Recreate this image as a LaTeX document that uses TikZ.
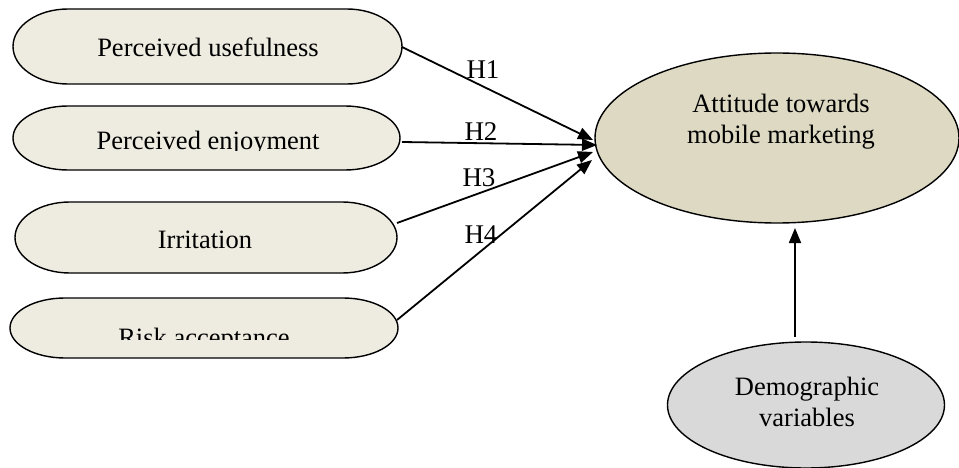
\documentclass[tikz,border=0pt]{standalone}
\usepackage{fontspec}
\setmainfont{Liberation Serif}
\usetikzlibrary{shapes.geometric,arrows.meta}
\definecolor{boxfill}{HTML}{EEECE1}
\definecolor{attfill}{HTML}{DDD9C3}
\definecolor{demfill}{HTML}{D9D9D9}
\newcommand\drawterm[4]{%
  \draw[termline] ({#1+55},#2) -- ({#3-55},#2)
    arc[start angle=-90,end angle=90,x radius=55,y radius={(#4-#2)/2}]
    -- ({#1+55},#4)
    arc[start angle=90,end angle=270,x radius=55,y radius={(#4-#2)/2}] -- cycle;}
\begin{document}
\begin{tikzpicture}[x=1pt,y=1pt,yscale=-1,
  txt/.style={font=\fontsize{26.5}{31}\selectfont, inner sep=0pt},
  termline/.style={draw=black, line width=1.4pt, fill=boxfill},
  conn/.style={line width=1.8pt, -{Triangle[length=15pt,width=12pt]}},
  hlab/.style={font=\fontsize{27}{30}\selectfont, inner sep=0pt}]
\useasboundingbox (0,0) rectangle (959,468);
\fill[white] (0,0) rectangle (959,468);

% left boxes
\drawterm{13}{9}{402}{84}
\drawterm{13}{106}{400}{170}
\drawterm{15}{202}{397}{273}
\drawterm{10}{298}{398}{358}

\node[txt, anchor=base] (pu) at (208,57) {Perceived usefulness};
\begin{scope}
  \clip (13,106) rectangle (400,150.5);
  \node[txt, anchor=base] (pe) at (208,150) {Perceived enjoyment};
\end{scope}
\node[txt, anchor=base] (irr) at (205,248) {Irritation};
\begin{scope}
  \clip (10,298) rectangle (398,339.5);
  \node[txt, anchor=base] (risk) at (204,346) {Risk acceptance};
\end{scope}

% right ellipses
\node[ellipse, draw=black, line width=1.4pt, fill=attfill,
      minimum width=364pt, minimum height=170pt] (att) at (777,138) {};
\node[txt, align=center, anchor=base] (attlab) at (781,144) {Attitude towards\\mobile marketing};

\node[ellipse, draw=black, line width=1.4pt, fill=demfill,
      minimum width=277pt, minimum height=126pt] (dem) at (806,405) {};
\node[txt, align=center, anchor=base] (demlab) at (807,426) {Demographic\\variables};

% connector ends
\coordinate (s1) at (402,47);
\coordinate (s2) at (402,142);
\coordinate (s3) at (397,223);
\coordinate (s4) at (397,320);
\coordinate (a1) at (593,140);
\coordinate (a2) at (597,145);
\coordinate (a3) at (593,152);
\coordinate (a4) at (592,160);
\coordinate (d1) at (795,337);
\coordinate (a5) at (795,228);

\draw[conn] (s1) -- (a1);
\draw[conn] (s2) -- (a2);
\draw[conn] (s3) -- (a3);
\draw[conn] (s4) -- (a4);
\draw[conn] (d1) -- (a5);

\node[hlab] (h1) at (483,70) {H1};
\node[hlab] (h2) at (481,132) {H2};
\node[hlab] (h3) at (479,178) {H3};
\node[hlab] (h4) at (481,235) {H4};
\end{tikzpicture}
\end{document}
